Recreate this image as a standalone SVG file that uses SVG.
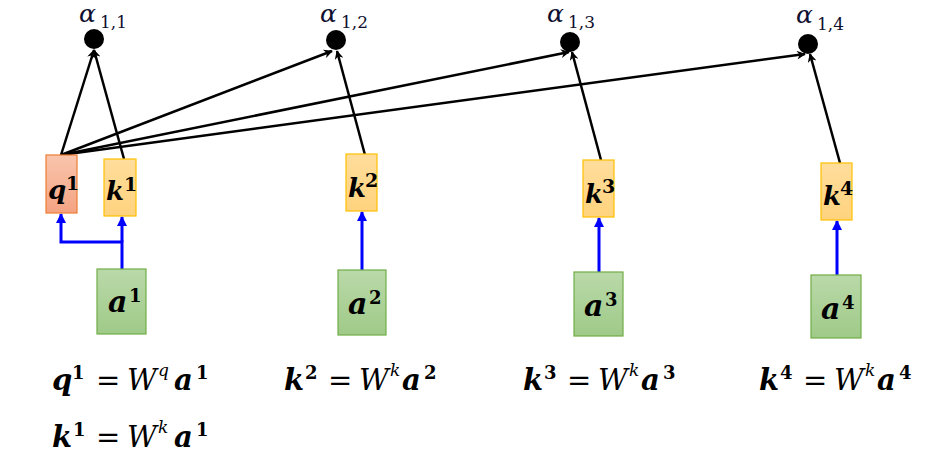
<svg xmlns="http://www.w3.org/2000/svg" width="932" height="458" viewBox="0 0 932 458">
<defs>
<linearGradient id="gq" x1="0" y1="0" x2="0" y2="1"><stop offset="0" stop-color="#f9c5ad"/><stop offset="1" stop-color="#f4a382"/></linearGradient>
<linearGradient id="gk" x1="0" y1="0" x2="0" y2="1"><stop offset="0" stop-color="#ffdd9c"/><stop offset="1" stop-color="#ffd37e"/></linearGradient>
<linearGradient id="ga" x1="0" y1="0" x2="0" y2="1"><stop offset="0" stop-color="#bad9a9"/><stop offset="1" stop-color="#9fca88"/></linearGradient>
<marker id="ab" viewBox="0 0 10 10" refX="9" refY="5" markerWidth="11" markerHeight="9" markerUnits="userSpaceOnUse" orient="auto"><path d="M0,0 L10,5 L0,10 L3,5 Z" fill="#000"/></marker>
<marker id="au" viewBox="0 0 10 10" refX="9" refY="5" markerWidth="12" markerHeight="10" markerUnits="userSpaceOnUse" orient="auto"><path d="M0,0 L10,5 L0,10 Z" fill="#0000ff"/></marker>
</defs>
<style>
.t{font-family:"DejaVu Serif","Liberation Serif",serif;fill:#000}
.v{font-weight:bold;font-style:italic}
.n{font-weight:bold}
.i{font-style:italic}
.al{font-family:"DejaVu Serif","Liberation Serif",serif;fill:#101030}
.bl{stroke:#000;stroke-width:2.5;fill:none;marker-end:url(#ab)}
.bu{stroke:#0000ff;stroke-width:3;fill:none}
.q{fill:url(#gq);stroke:#ed7d31;stroke-width:1.2}
.k{fill:url(#gk);stroke:#ffc000;stroke-width:1.2}
.a{fill:url(#ga);stroke:#70ad47;stroke-width:1.2}
</style>
<rect width="932" height="458" fill="#fff"/>
<g id="connectors">
<path class="bl" d="M61,155 L94,50"/>
<path class="bl" d="M124,159 L94,50"/>
<path class="bl" d="M61,155 L332,51"/>
<path class="bl" d="M61,155 L569,52"/>
<path class="bl" d="M61,155 L805,54"/>
<path class="bl" d="M365,155 L337,51"/>
<path class="bl" d="M601,160 L572,52"/>
<path class="bl" d="M840,163 L810,54"/>
<path class="bu" d="M122,269 L122,242 L61,242 L61,214" marker-end="url(#au)"/>
<path class="bu" d="M122,242 L122,217" marker-end="url(#au)"/>
<path class="bu" d="M362,270 L362,212" marker-end="url(#au)"/>
<path class="bu" d="M599,272 L599,218" marker-end="url(#au)"/>
<path class="bu" d="M837,275 L837,221" marker-end="url(#au)"/>
</g>
<g id="alpha11"><circle cx="94" cy="39" r="10" fill="#000"/><text class="al" y="22"><tspan x="79" class="i" font-size="25">α</tspan><tspan x="100" y="28" font-size="17">1,1</tspan></text></g>
<g id="alpha12"><circle cx="336" cy="40" r="10" fill="#000"/><text class="al" y="22"><tspan x="320" class="i" font-size="25">α</tspan><tspan x="341" y="28" font-size="17">1,2</tspan></text></g>
<g id="alpha13"><circle cx="570" cy="42" r="10" fill="#000"/><text class="al" y="22"><tspan x="547" class="i" font-size="25">α</tspan><tspan x="568" y="28" font-size="17">1,3</tspan></text></g>
<g id="alpha14"><circle cx="808" cy="44" r="10" fill="#000"/><text class="al" y="23"><tspan x="796" class="i" font-size="25">α</tspan><tspan x="817" y="30" font-size="17">1,4</tspan></text></g>
<g id="q1"><rect class="q" x="46" y="155" width="31" height="58"/><text class="t" y="199"><tspan x="48" class="v" font-size="26">q</tspan><tspan x="66" y="190" class="n" font-size="19">1</tspan></text></g>
<g id="k1"><rect class="k" x="104" y="159" width="32" height="57"/><text class="t" y="200"><tspan x="106" class="v" font-size="26">k</tspan><tspan x="124" y="191" class="n" font-size="19">1</tspan></text></g>
<g id="k2"><rect class="k" x="346" y="154" width="31" height="57"/><text class="t" y="197"><tspan x="348" class="v" font-size="26">k</tspan><tspan x="365" y="187" class="n" font-size="19">2</tspan></text></g>
<g id="k3"><rect class="k" x="583" y="160" width="31" height="57"/><text class="t" y="203"><tspan x="585" class="v" font-size="26">k</tspan><tspan x="602" y="193" class="n" font-size="19">3</tspan></text></g>
<g id="k4"><rect class="k" x="821" y="163" width="31" height="57"/><text class="t" y="205"><tspan x="823" class="v" font-size="26">k</tspan><tspan x="840" y="195" class="n" font-size="19">4</tspan></text></g>
<g id="a1"><rect class="a" x="97" y="269" width="49" height="65"/><text class="t" y="312"><tspan x="108" class="v" font-size="30">a</tspan><tspan x="129" y="302" class="n" font-size="18">1</tspan></text></g>
<g id="a2"><rect class="a" x="338" y="270" width="48" height="65"/><text class="t" y="314"><tspan x="348" class="v" font-size="30">a</tspan><tspan x="369" y="304" class="n" font-size="18">2</tspan></text></g>
<g id="a3"><rect class="a" x="574" y="272" width="49" height="64"/><text class="t" y="316"><tspan x="584" class="v" font-size="30">a</tspan><tspan x="605" y="306" class="n" font-size="18">3</tspan></text></g>
<g id="a4"><rect class="a" x="811" y="275" width="50" height="63"/><text class="t" y="319"><tspan x="821" class="v" font-size="30">a</tspan><tspan x="842" y="309" class="n" font-size="18">4</tspan></text></g>
<g id="equations" class="t">
<text y="390"><tspan x="52" class="v" font-size="29">q</tspan><tspan x="72" y="379" class="n" font-size="18">1</tspan><tspan x="96" y="390" font-size="29">=</tspan><tspan x="127" class="i" font-size="29">W</tspan><tspan x="158" y="376" class="i" font-size="17">q</tspan><tspan x="174" y="390" class="v" font-size="29">a</tspan><tspan x="196" y="379" class="n" font-size="18">1</tspan></text>
<text y="447"><tspan x="52" class="v" font-size="29">k</tspan><tspan x="73" y="436" class="n" font-size="18">1</tspan><tspan x="96" y="447" font-size="29">=</tspan><tspan x="127" class="i" font-size="29">W</tspan><tspan x="158" y="433" class="i" font-size="17">k</tspan><tspan x="174" y="447" class="v" font-size="29">a</tspan><tspan x="196" y="436" class="n" font-size="18">1</tspan></text>
<text y="390"><tspan x="284" class="v" font-size="29">k</tspan><tspan x="305" y="379" class="n" font-size="18">2</tspan><tspan x="328" y="390" font-size="29">=</tspan><tspan x="359" class="i" font-size="29">W</tspan><tspan x="390" y="376" class="i" font-size="17">k</tspan><tspan x="402" y="390" class="v" font-size="29">a</tspan><tspan x="424" y="379" class="n" font-size="18">2</tspan></text>
<text y="390"><tspan x="523" class="v" font-size="29">k</tspan><tspan x="544" y="379" class="n" font-size="18">3</tspan><tspan x="567" y="390" font-size="29">=</tspan><tspan x="598" class="i" font-size="29">W</tspan><tspan x="629" y="376" class="i" font-size="17">k</tspan><tspan x="641" y="390" class="v" font-size="29">a</tspan><tspan x="663" y="379" class="n" font-size="18">3</tspan></text>
<text y="390"><tspan x="759" class="v" font-size="29">k</tspan><tspan x="780" y="379" class="n" font-size="18">4</tspan><tspan x="803" y="390" font-size="29">=</tspan><tspan x="834" class="i" font-size="29">W</tspan><tspan x="865" y="376" class="i" font-size="17">k</tspan><tspan x="877" y="390" class="v" font-size="29">a</tspan><tspan x="899" y="379" class="n" font-size="18">4</tspan></text>
</g>
</svg>
